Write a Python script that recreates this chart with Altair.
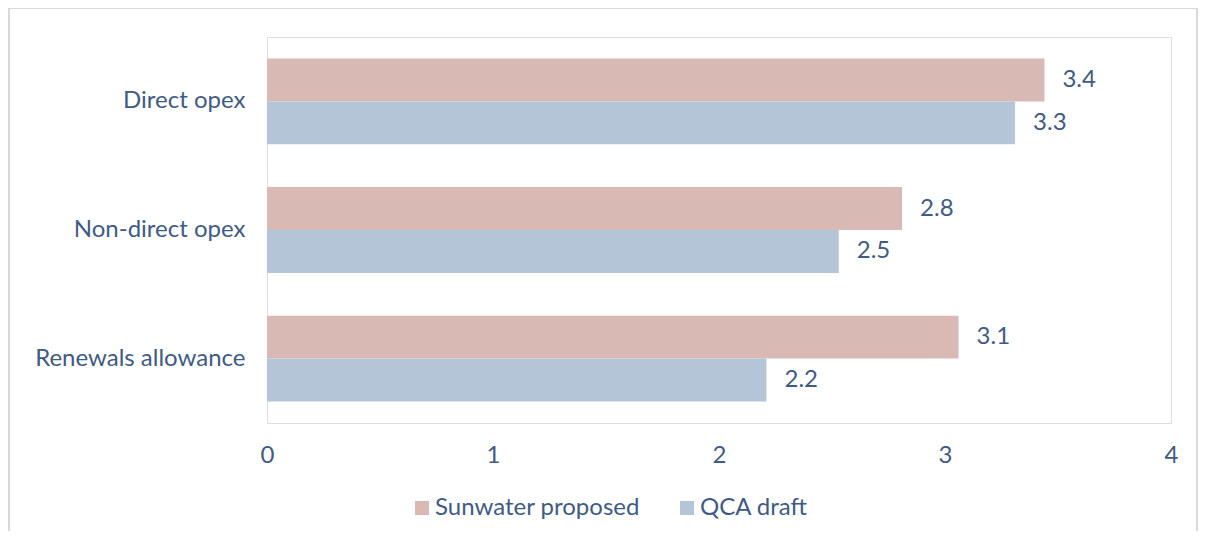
import altair as alt
import pandas as pd

categories = ["Direct opex", "Non-direct opex", "Renewals allowance"]
series = ["Sunwater proposed", "QCA draft"]
sunwater = [3.44, 2.81, 3.06]
qca = [3.31, 2.53, 2.21]
colors = ["#D9B9B4", "#B3C5D6"]
x_ticks = [0, 1, 2, 3, 4]

rows = []
for i, c in enumerate(categories):
    rows.append({"category": c, "series": series[0], "value": sunwater[i]})
    rows.append({"category": c, "series": series[1], "value": qca[i]})
df = pd.DataFrame(rows)

TEXT = "#3F5B84"
FONT = "Lato"
FS = 24
W, H = 904, 386

y = alt.Y(
    "category:N", sort=categories,
    scale=alt.Scale(paddingInner=0.333, paddingOuter=0.167),
    axis=alt.Axis(title=None, domain=False, ticks=False, labelFontSize=FS,
                  labelColor=TEXT, labelPadding=22, labelFont=FONT, labelLimit=400),
)
x = alt.X(
    "value:Q", scale=alt.Scale(domain=[0, 4], nice=False),
    axis=alt.Axis(title=None, values=x_ticks, grid=False, domain=False, ticks=False,
                  labelFontSize=FS, labelColor=TEXT, labelPadding=20, labelFont=FONT,
                  labelFlush=False, format="d"),
)
yoff = alt.YOffset("series:N", sort=series, scale=alt.Scale(paddingInner=0, paddingOuter=0))
color = alt.Color(
    "series:N", sort=series,
    scale=alt.Scale(domain=series, range=colors),
    legend=alt.Legend(title=None, orient="none", legendX=143, legendY=459,
                      direction="horizontal", symbolType="square", symbolSize=196,
                      symbolStrokeWidth=0, labelFontSize=FS, labelColor=TEXT,
                      labelFont=FONT, labelOffset=1, columnPadding=35, padding=0,
                      labelLimit=400),
)

bars = alt.Chart(df).mark_bar(opacity=1).encode(x=x, y=y, yOffset=yoff, color=color)
labels = alt.Chart(df).mark_text(
    align="left", baseline="middle", dx=18, fontSize=FS, color=TEXT, font=FONT
).encode(x="value:Q", y=alt.Y("category:N", sort=categories), yOffset=yoff,
         text=alt.Text("value:Q", format=".1f"))

border = alt.Chart(pd.DataFrame({"k": [0]})).mark_rect(
    fill=None, stroke="#D9D9D9", strokeWidth=2, clip=False
).encode(x=alt.value(-258), x2=alt.value(930), y=alt.value(-29), y2=alt.value(H + 140))

chart = alt.layer(border, bars, labels).properties(
    width=W, height=H,
    autosize=alt.AutoSizeParams(type="none"),
    padding={"left": 259, "top": 29, "right": 28, "bottom": 108},
).configure_view(stroke="#D9D9D9", strokeWidth=2.5).configure(background="white")

chart.save("out.html", embed_options={"renderer": "svg", "actions": False})
